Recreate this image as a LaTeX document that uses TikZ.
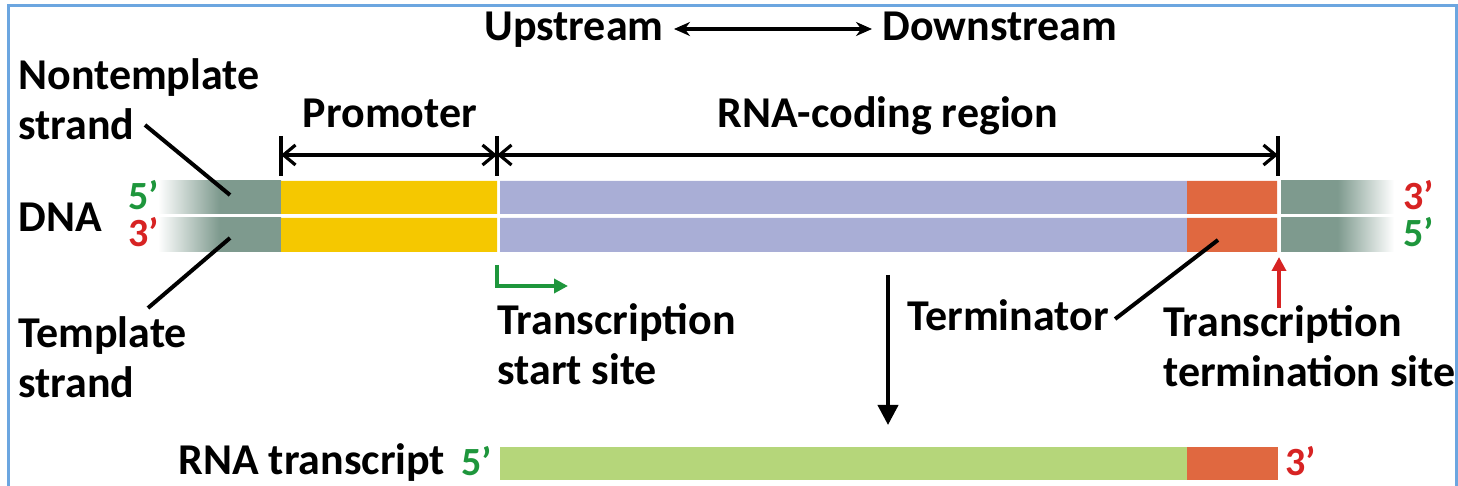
\documentclass[tikz,border=0pt]{standalone}
\usepackage{fontspec}
\setmainfont{Carlito}
\usetikzlibrary{arrows.meta,positioning}

\definecolor{framec}{RGB}{108,166,224}
\definecolor{flankc}{RGB}{126,154,142}
\definecolor{promc}{RGB}{245,200,0}
\definecolor{codec}{RGB}{169,174,214}
\definecolor{termc}{RGB}{224,104,64}
\definecolor{rnac}{RGB}{181,214,122}
\definecolor{fivec}{RGB}{30,150,60}
\definecolor{threec}{RGB}{215,35,35}

\tikzset{
    lbl/.style={font=\fontsize{22}{25}\selectfont\bfseries, inner sep=0pt, align=left},
    endlbl/.style={lbl, font=\fontsize{20}{22}\selectfont\bfseries, text height=13pt, text depth=0pt},
    pointer/.style={line width=2pt, black},
    dim/.style={line width=1.6pt, {Straight Barb[length=6pt,width=10pt]}-{Straight Barb[length=6pt,width=10pt]}},
    tick/.style={line width=1.6pt}
}

\begin{document}
\begin{tikzpicture}[x=0.5pt,y=-0.5pt]
    \useasboundingbox (0,0) rectangle (1458,486);
    \draw[framec, line width=1.5pt] (8,490) -- (8,6) -- (1456,6) -- (1456,490);

    % direction
    \node[lbl, anchor=base east] (up) at (664,41) {Upstream};
    \node[lbl, anchor=base west] (down) at (882,41) {Downstream};
    \draw[line width=1.6pt, {Stealth[length=8pt,width=7pt]}-{Stealth[length=8pt,width=7pt]}]
        ([xshift=5pt,yshift=6pt]up.base east) -- ([xshift=-5pt,yshift=6pt]down.base west);

    % DNA double strand
    \shade[left color=white, right color=flankc, middle color=flankc] (158,181) rectangle (281,214);
    \shade[left color=white, right color=flankc, middle color=flankc] (158,218) rectangle (281,252);
    \fill[promc] (281,181) rectangle (497,214) (281,218) rectangle (497,252);
    \fill[codec] (500,181) rectangle (1187,214) (500,218) rectangle (1187,252);
    \fill[termc] (1187,181) rectangle (1277,214) (1187,218) rectangle (1277,252);
    \shade[left color=flankc, right color=white, middle color=flankc] (1281,181) rectangle (1394,214);
    \shade[left color=flankc, right color=white, middle color=flankc] (1281,218) rectangle (1394,252);

    \node[lbl, anchor=west] (dna) at (18,217) {DNA};
    \node[endlbl, text=fivec, anchor=base west] (lfive) at (128,210) {5'};
    \node[endlbl, text=threec, anchor=base west] (lthree) at (128,247) {3'};
    \node[endlbl, text=threec, anchor=base west] (rthree) at (1403,210) {3'};
    \node[endlbl, text=fivec, anchor=base west] (rfive) at (1403,247) {5'};

    % strands
    \node[lbl, anchor=north west] (nontemp) at (18,58) {Nontemplate\\strand};
    \coordinate (nt) at (230,195);
    \draw[pointer] (145,125) -- (nt);
    \node[lbl, anchor=north west] (temp) at (18,316) {Template\\strand};
    \coordinate (tt) at (230,238);
    \draw[pointer] (tt) -- (148,308);

    % regions
    \coordinate (pa) at (281,155);
    \coordinate (pb) at (497,155);
    \coordinate (pc) at (1278,155);
    \draw[tick] (281,136) -- (281,176);
    \draw[tick] (497,136) -- (497,176);
    \draw[tick] (1278,136) -- (1278,176);
    \draw[dim] (pa) -- (pb);
    \draw[dim] (pb) -- (pc);
    \node[lbl, anchor=base] (prom) at (390,128) {Promoter};
    \node[lbl, anchor=base] (code) at (888,128) {RNA-coding region};

    % start site
    \coordinate (ss) at (497,265);
    \draw[fivec, line width=1.8pt, -{Triangle[length=7pt,width=7pt]}] (ss) -- (497,286) -- (568,286);
    \node[lbl, anchor=north west] (start) at (497,303) {Transcription\\start site};

    % terminator
    \node[lbl, anchor=base] (term) at (1008,331) {Terminator};
    \coordinate (tm) at (1218,240);
    \draw[pointer] ([xshift=3pt,yshift=6pt]term.base east) -- (tm);

    % termination site
    \coordinate (ts) at (1279,257);
    \draw[threec, line width=1.8pt, -{Triangle[length=7pt,width=7pt]}] (1279,308) -- (ts);
    \node[lbl, anchor=north west] (stop) at (1163,305) {Transcription\\termination site};

    % transcription
    \coordinate (tx) at (888,275);
    \draw[line width=2pt, -{Triangle[length=10pt,width=10pt]}] (tx) -- (888,425);

    % RNA
    \fill[rnac] (500,447) rectangle (1187,480);
    \fill[termc] (1187,447) rectangle (1278,480);
    \node[lbl, anchor=west] (rna) at (178,463) {RNA transcript};
    \node[endlbl, text=fivec, anchor=base west] (rnafive) at (461,475) {5'};
    \node[endlbl, text=threec, anchor=base west] (rnathree) at (1285,475) {3'};
\end{tikzpicture}
\end{document}
